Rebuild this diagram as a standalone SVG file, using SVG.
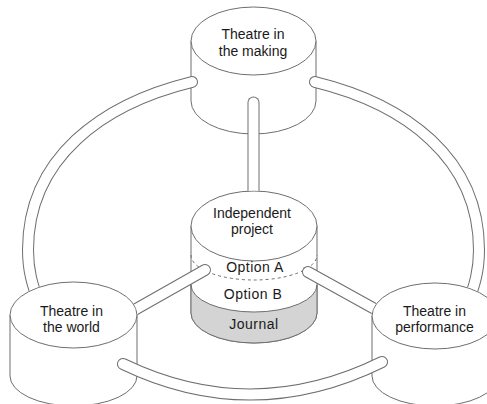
<svg xmlns="http://www.w3.org/2000/svg" xmlns:xlink="http://www.w3.org/1999/xlink" width="487" height="404" viewBox="0 0 487 404">
<style>
.sh{fill:#fff;stroke:#6e6e6e;stroke-width:1}
.grey{fill:#d4d4d4;stroke:#6e6e6e;stroke-width:1}
.dash{fill:none;stroke:#6e6e6e;stroke-width:1;stroke-dasharray:3 3}
.t{font-family:"Liberation Sans",Arial,sans-serif;font-size:14px;fill:#1a1a1a;text-anchor:middle}
.ls{letter-spacing:0.5px}
.po{fill:none;stroke:#6e6e6e;stroke-width:12;stroke-linecap:round}
.pi{fill:none;stroke:#fff;stroke-width:10;stroke-linecap:round}
</style>
<defs>
<path id="c1" d="M253.5,102.5 V205"/>
<path id="c2" d="M192,82 C102,104 28,158 28,250 C28,270 32,285 40,305"/>
<path id="c3" d="M315,82 C405,104 479,158 479,250 C479,270 475,285 467,305"/>
<path id="c4" d="M205,270 L122,317"/>
<path id="c5" d="M308,272 L382,313"/>
<path id="c6" d="M123,364 Q252,426 382,362"/>
<mask id="m" maskUnits="userSpaceOnUse" x="0" y="0" width="487" height="404">
<rect x="0" y="0" width="487" height="404" fill="#fff"/>
<ellipse cx="254" cy="226" rx="63.5" ry="35.5" fill="#000"/>
<ellipse cx="73.5" cy="315" rx="64" ry="33.5" fill="#000"/>
<ellipse cx="435" cy="316" rx="63.5" ry="33.5" fill="#000"/>
</mask>
</defs>

<g id="theatre-in-the-making">
<path class="sh" d="M191,41 V101 A62.5,33 0 0 0 316,101 V41 Z"/>
<ellipse class="sh" cx="253.5" cy="41" rx="62.5" ry="34"/>
<text class="t" x="253" y="39">Theatre in</text>
<text class="t" x="253" y="56">the making</text>
</g>

<g id="independent-project">
<path class="sh" d="M191,226 V313 A63,30 0 0 0 317,313 V226 Z"/>
<path class="grey" d="M191,285 A63,27 0 0 0 317,285 V313 A63,30 0 0 1 191,313 Z"/>
<path class="dash" d="M191,255 A63,25 0 0 0 317,255"/>
<ellipse class="sh" cx="254" cy="226" rx="63" ry="35"/>
<text class="t" x="252" y="218">Independent</text>
<text class="t" x="252" y="234">project</text>
<text class="t ls" x="255" y="272">Option A</text>
<text class="t ls" x="253" y="299">Option B</text>
<text class="t ls" x="254" y="329">Journal</text>
</g>

<g id="theatre-in-the-world">
<path class="sh" d="M10,315 V376 A63.5,30 0 0 0 137,376 V315 Z"/>
<ellipse class="sh" cx="73.5" cy="315" rx="63.5" ry="33"/>
<text class="t" x="71.5" y="316">Theatre in</text>
<text class="t" x="71.5" y="332">the world</text>
</g>

<g id="theatre-in-performance">
<path class="sh" d="M372,316 V376 A63,30 0 0 0 498,376 V316 Z"/>
<ellipse class="sh" cx="435" cy="316" rx="63" ry="33"/>
<text class="t" x="434.5" y="316">Theatre in</text>
<text class="t" x="434.5" y="332">performance</text>
</g>

<g id="connectors" mask="url(#m)">
<use xlink:href="#c1" class="po"/>
<use xlink:href="#c2" class="po"/>
<use xlink:href="#c3" class="po"/>
<use xlink:href="#c4" class="po"/>
<use xlink:href="#c5" class="po"/>
<use xlink:href="#c6" class="po"/>
<use xlink:href="#c1" class="pi"/>
<use xlink:href="#c2" class="pi"/>
<use xlink:href="#c3" class="pi"/>
<use xlink:href="#c4" class="pi"/>
<use xlink:href="#c5" class="pi"/>
<use xlink:href="#c6" class="pi"/>
</g>
</svg>
